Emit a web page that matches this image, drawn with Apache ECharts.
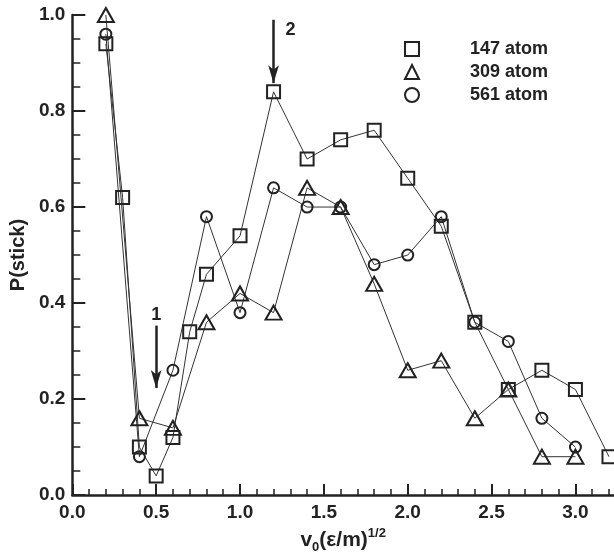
<!DOCTYPE html>
<html>
<head>
<meta charset="utf-8">
<script src="https://cdn.jsdelivr.net/npm/echarts@6/dist/echarts.min.js"></script>
<style>
  html, body { margin: 0; padding: 0; background: #fff; }
  #chart { width: 614px; height: 559px; }
</style>
</head>
<body>
<div id="chart"></div>
<script>
// data
const x147 = [0.2, 0.3, 0.4, 0.5, 0.6, 0.7, 0.8, 1.0, 1.2, 1.4, 1.6, 1.8, 2.0, 2.2, 2.4, 2.6, 2.8, 3.0, 3.2];
const y147 = [0.94, 0.62, 0.10, 0.04, 0.12, 0.34, 0.46, 0.54, 0.84, 0.70, 0.74, 0.76, 0.66, 0.56, 0.36, 0.22, 0.26, 0.22, 0.08];
const x309 = [0.2, 0.4, 0.6, 0.8, 1.0, 1.2, 1.4, 1.6, 1.8, 2.0, 2.2, 2.4, 2.6, 2.8, 3.0];
const y309 = [1.00, 0.16, 0.14, 0.36, 0.42, 0.38, 0.64, 0.60, 0.44, 0.26, 0.28, 0.16, 0.22, 0.08, 0.08];
const x561 = [0.2, 0.4, 0.6, 0.8, 1.0, 1.2, 1.4, 1.6, 1.8, 2.0, 2.2, 2.4, 2.6, 2.8, 3.0];
const y561 = [0.96, 0.08, 0.26, 0.58, 0.38, 0.64, 0.60, 0.60, 0.48, 0.50, 0.58, 0.36, 0.32, 0.16, 0.10];
const seriesNames = ['147 atom', '309 atom', '561 atom'];

const xMajorTicks = [0, 0.5, 1.0, 1.5, 2.0, 2.5, 3.0];
const xMinorTicks = [0.1, 0.2, 0.3, 0.4, 0.6, 0.7, 0.8, 0.9, 1.1, 1.2, 1.3, 1.4, 1.6, 1.7, 1.8, 1.9,
                     2.1, 2.2, 2.3, 2.4, 2.6, 2.7, 2.8, 2.9, 3.1, 3.2];

// arrows "1" and "2" (data coordinates)
const arrow1 = [[0.5, 0.353], [0.5, 0.223]];
const arrow2 = [[1.2, 0.99], [1.2, 0.858]];

const ink = '#222';
const font = 'Liberation Sans, Arial, sans-serif';

const pairs = (xs, ys) => xs.map((x, i) => [x, ys[i]]);

const chart = echarts.init(document.getElementById('chart'));

const markerStyle = { color: 'transparent', borderColor: ink, borderWidth: 2 };

function lineSeries(name, data, symbol, size) {
  return {
    name: name,
    type: 'line',
    data: data,
    symbol: symbol,
    symbolSize: size,
    showAllSymbol: true,
    itemStyle: markerStyle,
    lineStyle: { color: '#333', width: 1 },
    emphasis: { disabled: true },
    z: 3
  };
}

chart.setOption({
  animation: false,
  textStyle: { fontFamily: font },
  grid: { left: 72, right: 0, top: 15, bottom: 52.5 },
  legend: {
    orient: 'vertical',
    left: 399,
    top: 35,
    itemWidth: 14,
    itemHeight: 14,
    itemGap: 5,
    selectedMode: false,
    textStyle: { fontSize: 18, fontWeight: 'bold', color: ink, padding: [0, 0, 0, 46] },
    data: [
      { name: seriesNames[0], icon: 'rect' },
      { name: seriesNames[1], icon: 'triangle' },
      { name: seriesNames[2], icon: 'circle' }
    ]
  },
  xAxis: [{
    type: 'value',
    min: 0,
    max: 3.23,
    position: 'bottom',
    name: '{a|v}{sub|0}{a|(ε/m)}{sup|1/2}',
    nameLocation: 'middle',
    nameGap: 22,
    nameTextStyle: {
      color: ink,
      rich: {
        a: { fontSize: 21, fontWeight: 'bold', color: ink, fontFamily: font, lineHeight: 30 },
        sub: { fontSize: 13, fontWeight: 'bold', color: ink, fontFamily: font, padding: [14, 0, 0, 0] },
        sup: { fontSize: 13, fontWeight: 'bold', color: ink, fontFamily: font, padding: [0, 0, 14, 0] }
      }
    },
    axisLine: { lineStyle: { color: ink, width: 2.5 } },
    axisTick: { inside: true, length: 11, customValues: xMajorTicks, lineStyle: { color: ink, width: 2 } },
    axisLabel: {
      customValues: xMajorTicks,
      formatter: v => v.toFixed(1),
      fontSize: 19, fontWeight: 'bold', color: ink, margin: 8
    },
    splitLine: { show: false }
  }, {
    type: 'value',
    min: 0,
    max: 3.23,
    position: 'bottom',
    axisLine: { show: false },
    axisTick: { inside: true, length: 6, customValues: xMinorTicks, lineStyle: { color: ink, width: 1.5 } },
    axisLabel: { show: false },
    splitLine: { show: false }
  }],
  yAxis: {
    type: 'value',
    min: 0,
    max: 1,
    interval: 0.2,
    name: 'P(stick)',
    nameLocation: 'middle',
    nameGap: 40,
    nameTextStyle: { fontSize: 20, fontWeight: 'bold', color: ink },
    axisLine: { show: true, lineStyle: { color: ink, width: 2.5 } },
    axisTick: { show: true, inside: true, length: 13, lineStyle: { color: ink, width: 2 } },
    minorTick: { show: true, splitNumber: 4, length: 8, lineStyle: { color: ink, width: 1.5 } },
    axisLabel: { formatter: v => v.toFixed(1), fontSize: 19, fontWeight: 'bold', color: ink, margin: 7 },
    splitLine: { show: false }
  },
  series: [
    lineSeries(seriesNames[0], pairs(x147, y147), 'rect', 13),
    lineSeries(seriesNames[1], pairs(x309, y309), 'triangle', [16, 14]),
    lineSeries(seriesNames[2], pairs(x561, y561), 'circle', 11),
    {
      name: 'arrows',
      type: 'line',
      data: [],
      markLine: {
        silent: true,
        symbol: ['none', 'arrow'],
        lineStyle: { type: 'solid', color: ink, width: 2.5 },
        label: { position: 'start', fontSize: 18, fontWeight: 'bold', color: ink },
        data: [
          [
            { coord: arrow1[0], symbol: 'none', label: { formatter: '1', offset: [0, 3] } },
            { coord: arrow1[1], symbol: 'arrow', symbolSize: [8, 18] }
          ],
          [
            { coord: arrow2[0], symbol: 'none', label: { formatter: '2', offset: [17, 24] } },
            { coord: arrow2[1], symbol: 'arrow', symbolSize: [8, 18] }
          ]
        ]
      }
    }
  ]
});
</script>
</body>
</html>
